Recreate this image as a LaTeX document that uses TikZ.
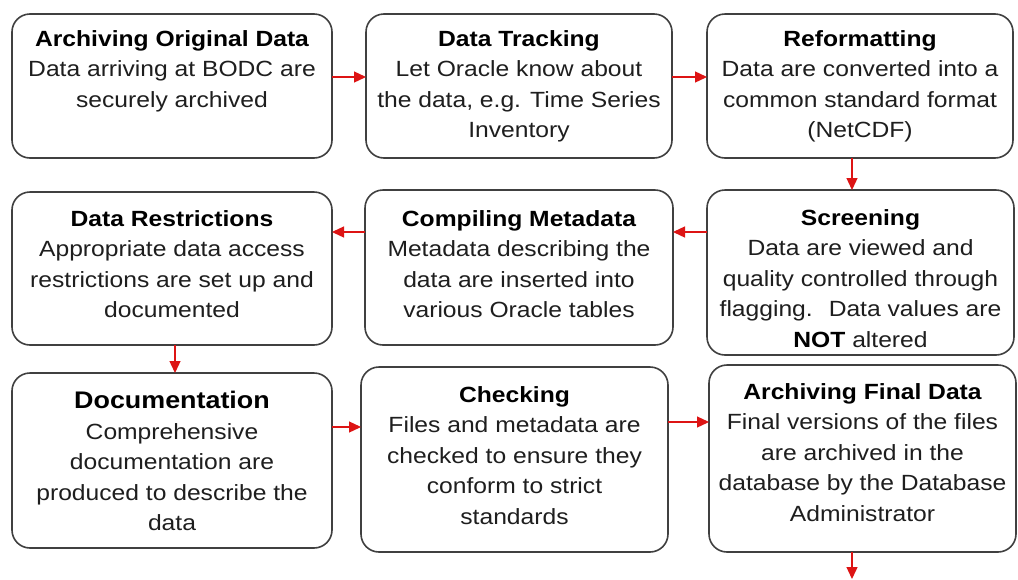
\documentclass[tikz,border=0pt]{standalone}
\usepackage{fontspec}
\usetikzlibrary{arrows.meta}
\newfontfamily\bodyfont[FakeStretch=1.12]{Liberation Sans}
\definecolor{boxline}{HTML}{404040}
\definecolor{flowred}{HTML}{DD1414}
\definecolor{inkgray}{HTML}{1E1E1E}
\tikzset{
  stepbox/.style={draw=boxline, line width=1.6pt, rounded corners=18pt, fill=white,
    inner sep=0pt, outer sep=0pt},
  steptext/.style={anchor=north, inner sep=0pt, align=center, text=inkgray,
    font={\bodyfont\fontsize{22}{30.5}\selectfont}},
  flow/.style={draw=flowred, line width=1.3pt,
    -{Triangle[length=12pt,width=11pt]}}
}
\newcommand{\steptitle}[1]{{\bfseries\color{black}#1}}
\newcommand{\bigtitle}[1]{{\fontsize{24}{32}\selectfont\bfseries\color{black}#1}}
\begin{document}
\begin{tikzpicture}[x=1pt,y=-1pt]
\useasboundingbox[fill=white] (0,0) rectangle (1018,579);

% row 1
\node[stepbox, minimum width=320pt, minimum height=144pt] (b1) at (172,86) {};
\node[stepbox, minimum width=306pt, minimum height=144pt] (b2) at (519,86) {};
\node[stepbox, minimum width=306pt, minimum height=144pt] (b3) at (860,86) {};
% row 2
\node[stepbox, minimum width=320pt, minimum height=153pt] (b4) at (172,268.5) {};
\node[stepbox, minimum width=308pt, minimum height=155pt] (b5) at (519,267.5) {};
\node[stepbox, minimum width=307pt, minimum height=165pt] (b6) at (860.5,272.5) {};
% row 3
\node[stepbox, minimum width=320pt, minimum height=175pt] (b7) at (172,460.5) {};
\node[stepbox, minimum width=307pt, minimum height=185pt] (b8) at (514.5,459.5) {};
\node[stepbox, minimum width=307pt, minimum height=187pt] (b9) at (862.5,458.5) {};

% texts
\node[steptext] (t1) at (172,30) {\steptitle{Archiving Original Data}\\Data arriving at BODC are\\securely archived};
\node[steptext] (t2) at (519,30) {\steptitle{Data Tracking}\\Let Oracle know about\\the data, e.g. Time Series\\Inventory};
\node[steptext] (t3) at (860,30) {\steptitle{Reformatting}\\Data are converted into a\\common standard format\\(NetCDF)};
\node[steptext] (t4) at (172,210) {\steptitle{Data Restrictions}\\Appropriate data access\\restrictions are set up and\\documented};
\node[steptext] (t5) at (519,210) {\steptitle{Compiling Metadata}\\Metadata describing the\\data are inserted into\\various Oracle tables};
\node[steptext] (t6) at (860.5,209) {\steptitle{Screening}\\Data are viewed and\\quality controlled through\\flagging.~ Data values are\\\steptitle{NOT} altered};
\node[steptext] (t7) at (172,391) {\bigtitle{Documentation}\\Comprehensive\\documentation are\\produced to describe the\\data};
\node[steptext] (t8) at (514.5,386) {\steptitle{Checking}\\Files and metadata are\\checked to ensure they\\conform to strict\\standards};
\node[steptext] (t9) at (862.5,383) {\steptitle{Archiving Final Data}\\Final versions of the files\\are archived in the\\database by the Database\\Administrator};

% guide lines for connectors
\coordinate (r1) at (0,77);
\coordinate (r2) at (0,232);
\coordinate (r3a) at (0,427);
\coordinate (r3b) at (0,422);
\coordinate (c1) at (175,0);
\coordinate (c3) at (852,0);
\coordinate (out) at (852,579);

% flow
\draw[flow] (b1.east |- r1) -- (b2.west |- r1);
\draw[flow] (b2.east |- r1) -- (b3.west |- r1);
\draw[flow] (b3.south -| c3) -- (b6.north -| c3);
\draw[flow] (b6.west |- r2) -- (b5.east |- r2);
\draw[flow] (b5.west |- r2) -- (b4.east |- r2);
\draw[flow] (b4.south -| c1) -- (b7.north -| c1);
\draw[flow] (b7.east |- r3a) -- (b8.west |- r3a);
\draw[flow] (b8.east |- r3b) -- (b9.west |- r3b);
\draw[flow] (b9.south -| c3) -- (out);
\end{tikzpicture}
\end{document}
